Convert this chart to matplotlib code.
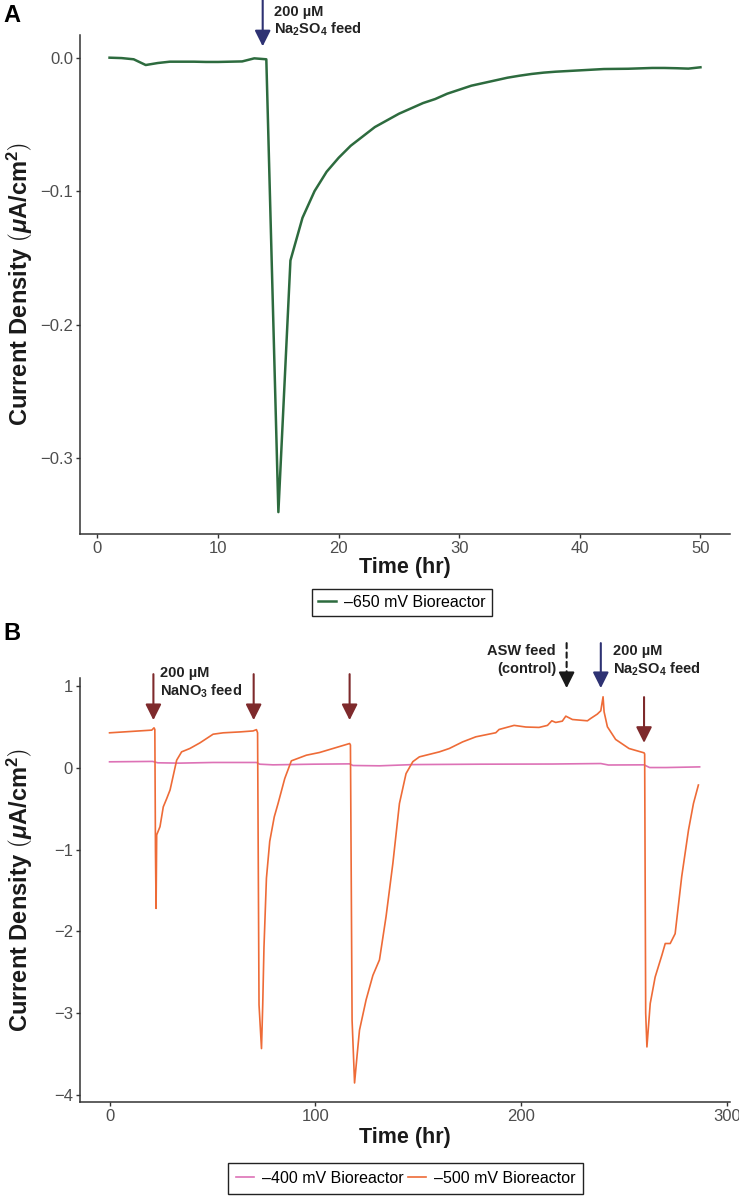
import matplotlib
matplotlib.use("Agg")
import matplotlib.pyplot as plt
from matplotlib.lines import Line2D

plt.rcParams['font.family'] = ['Liberation Sans', 'DejaVu Sans']
plt.rcParams['mathtext.fontset'] = 'custom'
plt.rcParams['mathtext.rm'] = 'Liberation Sans'
plt.rcParams['mathtext.bf'] = 'Liberation Sans:bold'
plt.rcParams['mathtext.it'] = 'Liberation Sans:italic'
plt.rcParams['mathtext.bfit'] = 'Liberation Sans:bold:italic'

# ---- panel A data (-650 mV), hourly ----
hours_a = list(range(1, 51))
cur_a = [0.000, -0.0003, -0.0012, -0.0055, -0.004, -0.003, -0.003, -0.003, -0.0032, -0.0032,
         -0.003, -0.0028, -0.0005, -0.0012, -0.3406, -0.152, -0.120, -0.100, -0.0855, -0.075,
         -0.066, -0.059, -0.052, -0.047, -0.042, -0.038, -0.034, -0.031, -0.027, -0.024,
         -0.021, -0.019, -0.017, -0.015, -0.0135, -0.0122, -0.0112, -0.0105, -0.010, -0.0095,
         -0.009, -0.0085, -0.0084, -0.0083, -0.008, -0.0077, -0.0077, -0.0079, -0.0082, -0.0072]

# ---- panel B data ----
t_500 = [0, 10, 20.5, 21.6, 22.0, 22.3, 22.6, 22.9, 24.5, 26.1, 27.7, 29.4, 32.6, 35.0, 39.0,
         43.9, 50.3, 55.2, 63.3, 69.7, 71.35, 71.9, 72.6, 73.8, 74.4, 75.0, 76.2, 77.8, 80.0,
         81.85, 85.1, 88.3, 95.6, 102.0, 108.5, 116.6, 117.0, 117.8, 119.0, 120.3, 121.4,
         124.6, 127.9, 131.1, 134.3, 137.6, 140.8, 144.0, 147.3, 150.5, 160.2, 165.0, 171.5,
         177.9, 187.6, 189.2, 196.5, 202.2, 208.6, 212.7, 214.8, 216.7, 219.9, 221.6, 224.8,
         232.1, 233.7, 236.9, 238.6, 239.7, 240.2, 241.8, 245.8, 252.3, 259.6, 259.9, 260.4,
         261.0, 262.6, 265.0, 268.3, 269.9, 272.3, 274.7, 277.9, 281.2, 283.6, 286.0]
cur_500 = [0.429, 0.445, 0.462, 0.49, 0.47, -1.0, -1.72, -0.82, -0.72, -0.477, -0.38, -0.27,
           0.094, 0.196, 0.237, 0.306, 0.412, 0.429, 0.44, 0.452, 0.468, 0.43, -2.9, -3.436,
           -2.9, -2.2, -1.35, -0.9, -0.6, -0.436, -0.13, 0.086, 0.155, 0.188, 0.237, 0.298,
           0.28, -3.09, -3.857, -3.5, -3.21, -2.84, -2.54, -2.35, -1.82, -1.17, -0.436, -0.07,
           0.076, 0.135, 0.196, 0.237, 0.318, 0.38, 0.43, 0.47, 0.52, 0.50, 0.495, 0.52, 0.576,
           0.556, 0.572, 0.633, 0.592, 0.576, 0.605, 0.658, 0.699, 0.87, 0.686, 0.503, 0.348,
           0.237, 0.184, 0.17, -3.0, -3.416, -2.885, -2.56, -2.29, -2.15, -2.15, -2.03, -1.33,
           -0.76, -0.436, -0.21]

t_400 = [0, 20.9, 23.4, 33.9, 50.3, 71.35, 72.9, 79.4, 98.8, 116.6, 118.2, 131.1, 147.3, 180,
         215, 238.6, 242.3, 259.6, 262.3, 270.4, 286.6]
cur_400 = [0.074, 0.079, 0.062, 0.058, 0.066, 0.066, 0.045, 0.037, 0.045, 0.049, 0.029, 0.025,
           0.04, 0.045, 0.047, 0.053, 0.035, 0.037, 0.004, 0.004, 0.012]

# feed events (time of arrow)
nitrate_feeds = [21.3, 70.0, 116.6]
last_nitrate = 259.6
asw_feed = 222.0
sulfate_feed_b = 238.6
sulfate_feed_a = 13.7

green = "#2D6B3E"
orange = "#EE6B37"
pink = "#DD72B6"
navy = "#2E3273"
darkred = "#7E2A2C"
axcol = "#333333"
tickcol = "#4D4D4D"

fig = plt.figure(figsize=(7.39, 11.99), dpi=100)
axA = fig.add_axes([80/739, 1-534/1199, 650/739, 499/1199])
axB = fig.add_axes([80/739, 1-1102/1199, 650/739, 424/1199])

for ax in (axA, axB):
    for s in ('top', 'right'):
        ax.spines[s].set_visible(False)
    for s in ('left', 'bottom'):
        ax.spines[s].set_color(axcol)
        ax.spines[s].set_linewidth(1.1)
    ax.tick_params(colors=axcol, labelcolor=tickcol, labelsize=12, length=3, width=1.0, pad=2)

ylab = r'Current Density $\left(\mathbfit{\mu}\mathbf{A/cm^2}\right)$'

# ---- panel A ----
axA.plot(hours_a, cur_a, color=green, lw=1.8)
axA.set_xlim(-1.45, 52.45)
axA.set_ylim(-0.357, 0.017)
axA.set_xticks([0, 10, 20, 30, 40, 50])
axA.set_yticks([0.0, -0.1, -0.2, -0.3])
axA.set_yticklabels(['0.0', '\u22120.1', '\u22120.2', '\u22120.3'])
axA.set_xlabel('Time (hr)', fontsize=15.5, fontweight='bold', color='#1a1a1a', va='center')
axA.xaxis.set_label_coords(0.5, -(568-534)/499)
axA.set_ylabel(ylab, fontsize=17, fontweight='bold', color='#1a1a1a', va='center')
axA.yaxis.set_label_coords((20-80)/650, 0.5)

axA.annotate('', xy=(sulfate_feed_a, 0.0085), xytext=(sulfate_feed_a, 0.0433),
             annotation_clip=False,
             arrowprops=dict(arrowstyle='-|>', color=navy, lw=1.5, mutation_scale=24,
                             shrinkA=0, shrinkB=0))
fig.text(274/739, 1-12/1199, '200 \u00b5M', fontsize=10.5, fontweight='bold', color='#222222', va='center')
fig.text(274/739, 1-29/1199, r'Na$_\mathbf{2}$SO$_\mathbf{4}$ feed', fontsize=10.5,
         fontweight='bold', color='#222222', va='center')

fig.text(3/739, 1-16/1199, 'A', fontsize=17, fontweight='bold', va='center')
fig.text(3/739, 1-634/1199, 'B', fontsize=17, fontweight='bold', va='center')

fig.legend(handles=[Line2D([], [], color=green, lw=1.8)], labels=['\u2013650 mV Bioreactor'],
           loc='center', bbox_to_anchor=(402/739, 1-602.5/1199), fontsize=11.5,
           frameon=True, fancybox=False, edgecolor='#222222', framealpha=1,
           handlelength=1.1, handletextpad=0.5, borderpad=0.4,
           borderaxespad=0).get_frame().set_linewidth(1.0)

# ---- panel B ----
axB.plot(t_400, cur_400, color=pink, lw=1.2, label='\u2013400 mV Bioreactor')
axB.plot(t_500, cur_500, color=orange, lw=1.2, label='\u2013500 mV Bioreactor')
axB.set_xlim(-14.35, 301.35)
axB.set_ylim(-4.09, 1.1)
axB.set_xticks([0, 100, 200, 300])
axB.set_yticks([1, 0, -1, -2, -3, -4])
axB.set_yticklabels(['1', '0', '\u22121', '\u22122', '\u22123', '\u22124'])
axB.set_xlabel('Time (hr)', fontsize=15.5, fontweight='bold', color='#1a1a1a', va='center')
axB.xaxis.set_label_coords(0.5, -(1137-1102)/424)
axB.set_ylabel(ylab, fontsize=17, fontweight='bold', color='#1a1a1a', va='center')
axB.yaxis.set_label_coords((20-80)/650, 0.5)

arrow_kw = dict(arrowstyle='-|>', lw=1.5, mutation_scale=24, shrinkA=0, shrinkB=0)
for t in nitrate_feeds:
    axB.annotate('', xy=(t, 0.584), xytext=(t, 1.147), annotation_clip=False,
                 arrowprops=dict(color=darkred, **arrow_kw))
axB.annotate('', xy=(last_nitrate, 0.306), xytext=(last_nitrate, 0.866), annotation_clip=False,
             arrowprops=dict(color=darkred, **arrow_kw))
axB.annotate('', xy=(sulfate_feed_b, 0.976), xytext=(sulfate_feed_b, 1.527), annotation_clip=False,
             arrowprops=dict(color=navy, **arrow_kw))
# dashed shaft + solid head for the control feed
axB.annotate('', xy=(asw_feed, 1.12), xytext=(asw_feed, 1.527), annotation_clip=False,
             arrowprops=dict(arrowstyle='-', color='#1a1a1a', lw=1.5, linestyle=(0, (2.5, 2)),
                             shrinkA=0, shrinkB=0))
axB.annotate('', xy=(asw_feed, 0.976), xytext=(asw_feed, 1.14), annotation_clip=False,
             arrowprops=dict(color='#1a1a1a', **arrow_kw))

fig.text(160/739, 1-673/1199, '200 \u00b5M', fontsize=10.5, fontweight='bold', color='#222222', va='center')
fig.text(160/739, 1-691/1199, r'NaNO$_\mathbf{3}$ feed', fontsize=10.5, fontweight='bold',
         color='#222222', va='center')
fig.text(556/739, 1-651/1199, 'ASW feed', fontsize=10.5, fontweight='bold', color='#222222',
         va='center', ha='right')
fig.text(556/739, 1-669/1199, '(control)', fontsize=10.5, fontweight='bold', color='#222222',
         va='center', ha='right')
fig.text(613/739, 1-651/1199, '200 \u00b5M', fontsize=10.5, fontweight='bold', color='#222222', va='center')
fig.text(613/739, 1-669/1199, r'Na$_\mathbf{2}$SO$_\mathbf{4}$ feed', fontsize=10.5,
         fontweight='bold', color='#222222', va='center')

h, l = axB.get_legend_handles_labels()
fig.legend(h, l, loc='center', bbox_to_anchor=(405.5/739, 1-1178.5/1199), ncol=2, fontsize=11.5,
           frameon=True, fancybox=False, edgecolor='#222222', framealpha=1,
           handlelength=1.1, handletextpad=0.5, columnspacing=0.3,
           borderpad=0.5, borderaxespad=0).get_frame().set_linewidth(1.0)

fig.savefig('out.png', dpi=100)
